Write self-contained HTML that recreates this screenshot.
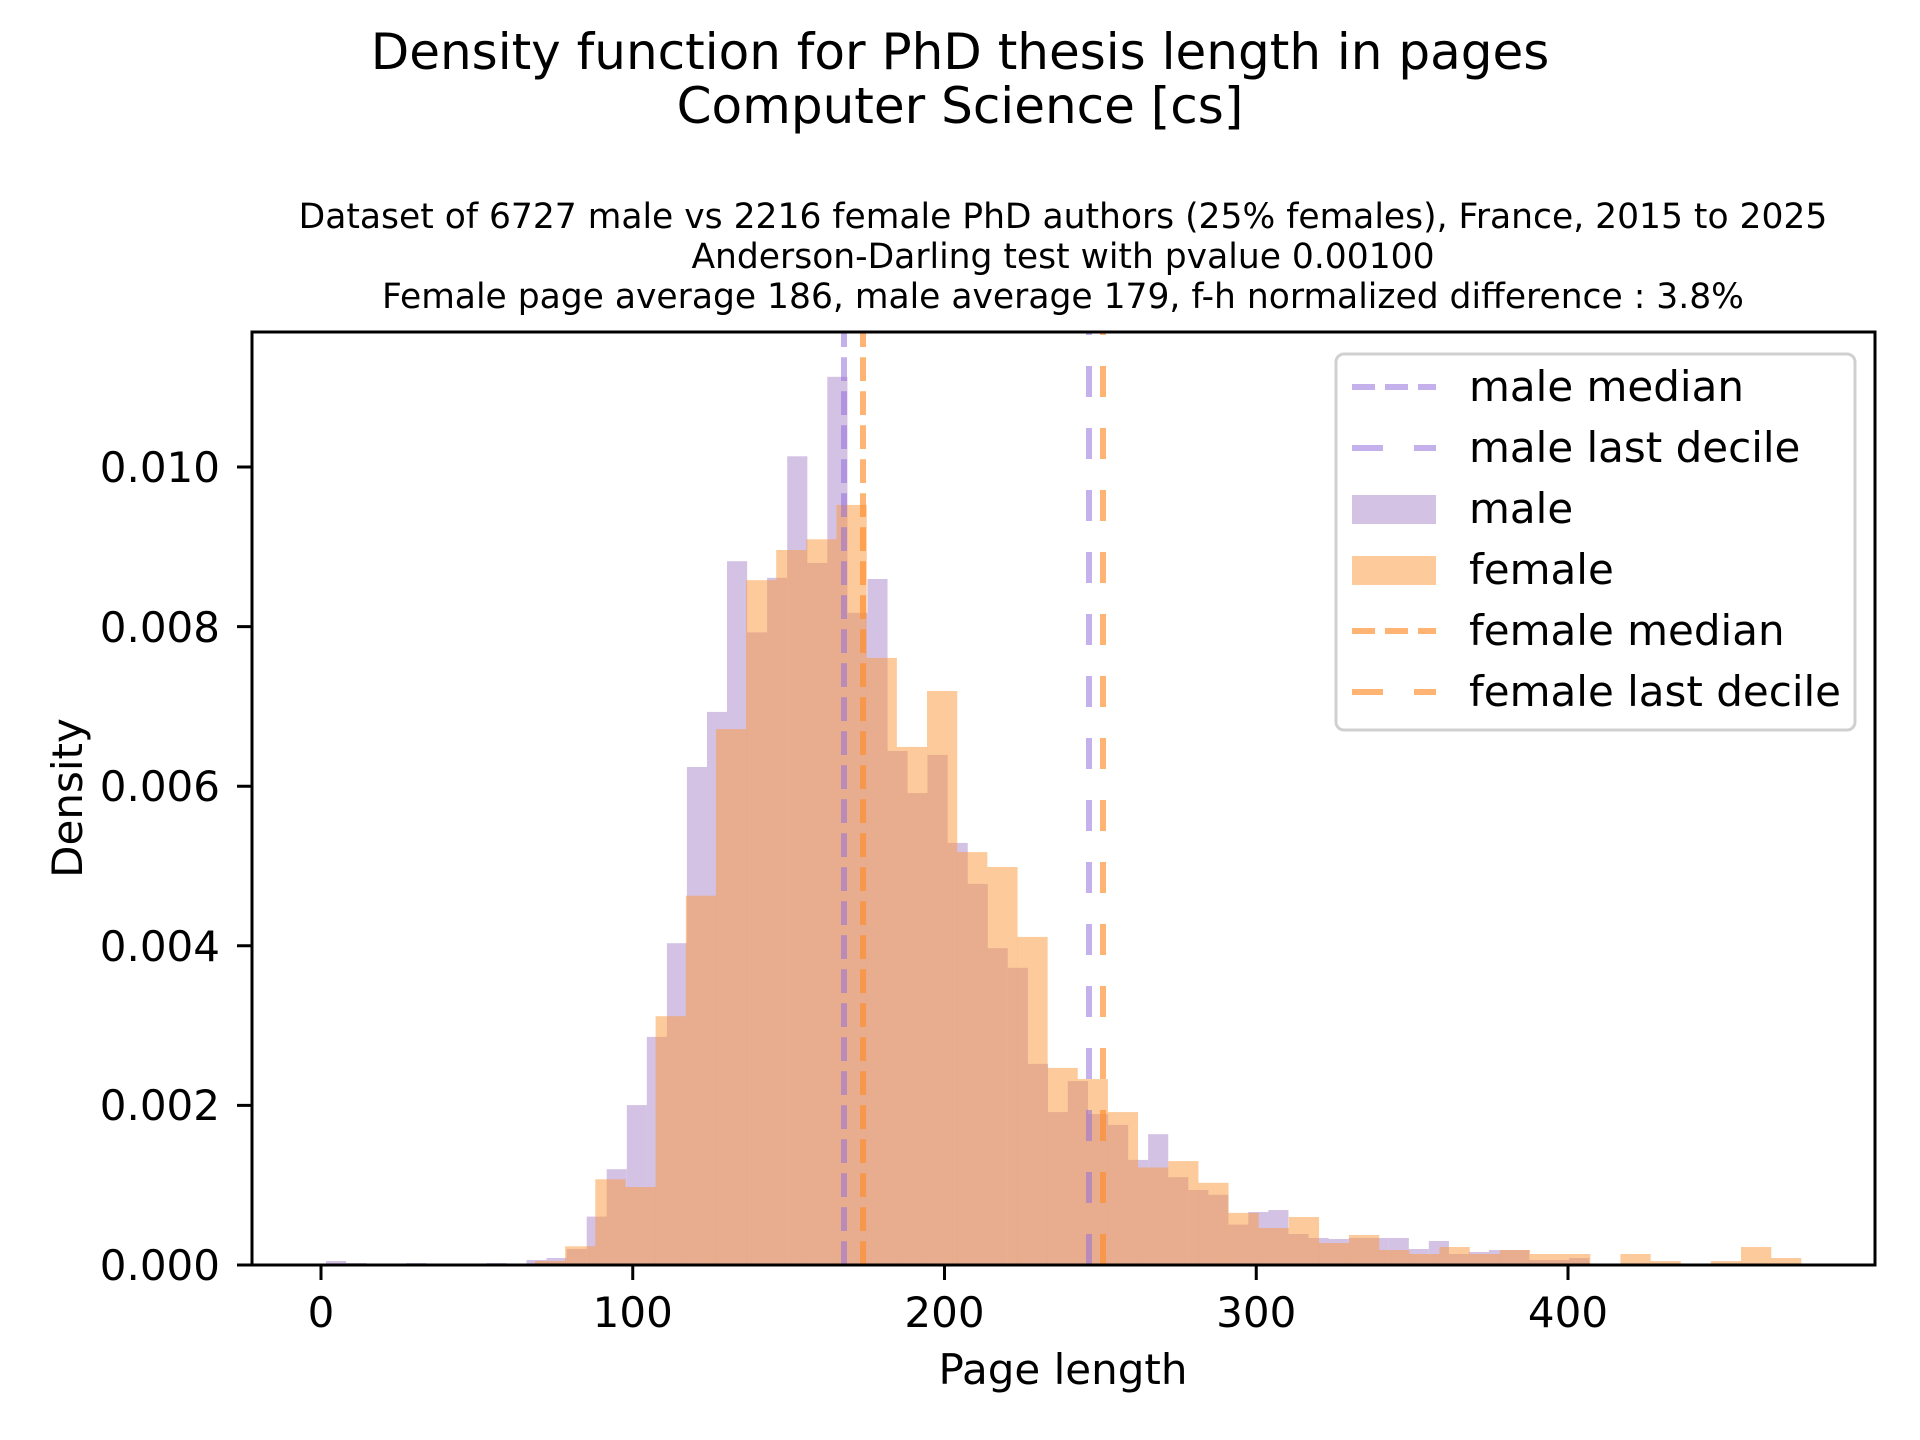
<!DOCTYPE html>
<html><head><meta charset="utf-8"><style>
html,body{margin:0;padding:0;background:#fff;}
svg{display:block;}
text{font-family:"DejaVu Sans","Liberation Sans",sans-serif;fill:#000;}
</style></head><body>
<svg id="s" width="1920" height="1440" viewBox="0 0 1920 1440" xmlns="http://www.w3.org/2000/svg">
<rect width="1920" height="1440" fill="#fff"/>
<text x="960" y="69" font-size="50" text-anchor="middle">Density function for PhD thesis length in pages</text>
<text x="960" y="123" font-size="50" text-anchor="middle">Computer Science [cs]</text>
<text x="1063" y="228" font-size="34.5" text-anchor="middle">Dataset of 6727 male vs 2216 female PhD authors (25% females), France, 2015 to 2025</text>
<text x="1063" y="268" font-size="34.5" text-anchor="middle">Anderson-Darling test with pvalue 0.00100</text>
<text x="1063" y="308" font-size="34.5" text-anchor="middle">Female page average 186, male average 179, f-h normalized difference : 3.8%</text>
<g id="bars"></g>
<g fill="none" stroke-width="6">
<path d="M844 1265V332" stroke="#9370db" stroke-opacity="0.55" stroke-dasharray="23.7 10.3"/>
<path d="M863 1265V332" stroke="#ff8c2a" stroke-opacity="0.65" stroke-dasharray="23.7 10.3"/>
<path d="M1089 1265V332" stroke="#9370db" stroke-opacity="0.55" stroke-dasharray="31 31"/>
<path d="M1103 1265V332" stroke="#ff8c2a" stroke-opacity="0.65" stroke-dasharray="31 31"/>
</g>
<rect x="252" y="332" width="1623" height="933" fill="none" stroke="#000" stroke-width="3"/>
<g stroke="#000" stroke-width="3">
<path d="M321 1265v15M632.75 1265v15M944.5 1265v15M1256.25 1265v15M1568 1265v15"/>
<path d="M252 1265h-15M252 1105.4h-15M252 945.8h-15M252 786.2h-15M252 626.6h-15M252 467h-15"/>
</g>
<g font-size="42" text-anchor="middle">
<text x="321" y="1327">0</text><text x="632.75" y="1327">100</text><text x="944.5" y="1327">200</text><text x="1256.25" y="1327">300</text><text x="1568" y="1327">400</text>
</g>
<g font-size="42" text-anchor="end">
<text x="220" y="1280">0.000</text><text x="220" y="1120">0.002</text><text x="220" y="961">0.004</text><text x="220" y="801">0.006</text><text x="220" y="642">0.008</text><text x="220" y="482">0.010</text>
</g>
<text x="1063" y="1384" font-size="42" text-anchor="middle">Page length</text>
<text transform="translate(82,798) rotate(-90)" font-size="42" text-anchor="middle">Density</text>
<rect x="1336" y="354" width="519" height="376" rx="8" fill="#fff" fill-opacity="0.85" stroke="#d0d0d0" stroke-width="3"/>
<g fill="none" stroke-width="6">
<path d="M1352 387h84" stroke="#9370db" stroke-opacity="0.55" stroke-dasharray="23 10"/>
<path d="M1352 448h84" stroke="#9370db" stroke-opacity="0.55" stroke-dasharray="31 31"/>
<path d="M1352 631h84" stroke="#ff8c2a" stroke-opacity="0.65" stroke-dasharray="23 10"/>
<path d="M1352 692h84" stroke="#ff8c2a" stroke-opacity="0.65" stroke-dasharray="31 31"/>
</g>
<rect x="1352" y="495" width="84" height="29" fill="#d4c2e4"/>
<rect x="1352" y="556" width="84" height="29" fill="#fdca9b"/>
<g font-size="42">
<text x="1469" y="401">male median</text>
<text x="1469" y="462">male last decile</text>
<text x="1469" y="523">male</text>
<text x="1469" y="584">female</text>
<text x="1469" y="645">female median</text>
<text x="1469" y="706">female last decile</text>
</g>
</svg>
<script>
var male=[1261,1263,0,0,1263,0,0,0,1263,0,1260,1258,1249,1216.6,1169.2,1105.1,1036.9,943.2,767,711.9,561.2,632.4,577.8,456.3,563,376.8,612.8,579,751,793.1,754.9,842.9,883.9,948.2,967.8,1063.9,1112.1,1081.1,1114.1,1124.9,1159.9,1134.2,1177.2,1190,1194.8,1224.6,1212,1210,1234,1238,1239,1238,1238,1238,1249,1241,1254,1252,1250,1250,1260,1260,1258];
var fem=[1261,1246.3,1179.3,1187,1016.2,895.7,729.1,580.2,550,539.3,504.9,657.9,746.9,691,852.1,867,936.9,1067.9,1079.1,1112.1,1167.5,1161.1,1182.8,1212.9,1228,1217,1243,1235,1250,1254,1247,1254,1250,1254,1254,0,1254,1261,0,1261,1247,1258];
var g=document.getElementById('bars'),h='';
male.forEach(function(t,i){if(!t)return;var x=326+20.05*i;h+='<rect x="'+x.toFixed(1)+'" y="'+t+'" width="20.15" height="'+(1265-t).toFixed(1)+'" fill="#d4c2e4"/>';});
fem.forEach(function(t,j){if(!t)return;var x=535+30.15*j;h+='<rect x="'+x.toFixed(1)+'" y="'+t+'" width="30.25" height="'+(1265-t).toFixed(1)+'" fill="rgb(251,149,55)" fill-opacity="0.5"/>';});
g.innerHTML=h;
</script>
</body></html>
